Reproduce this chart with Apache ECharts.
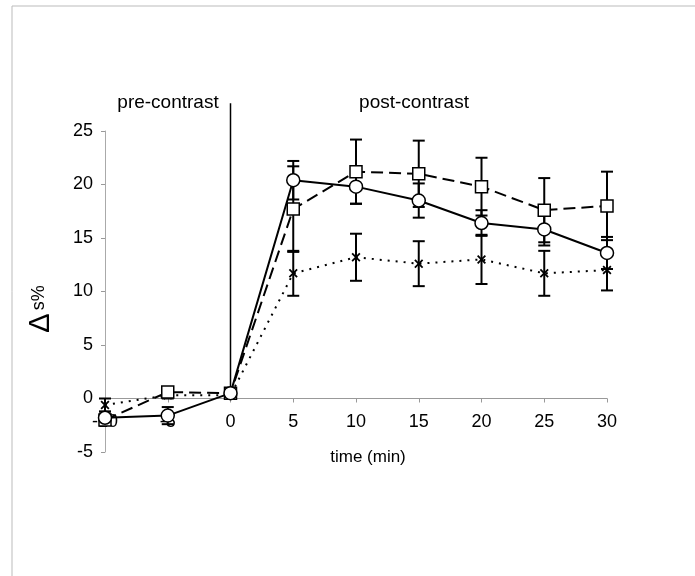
<!DOCTYPE html>
<html>
<head>
<meta charset="utf-8">
<script src="https://cdn.jsdelivr.net/npm/echarts@6/dist/echarts.min.js"></script>
<style>html,body{margin:0;padding:0;background:#fff}#c{width:695px;height:576px}</style>
</head>
<body>
<div id="c"></div>
<script>
var times = [-10, -5, 0, 5, 10, 15, 20, 25, 30];
var circleVals = [-1.8, -1.6, 0.5, 20.4, 19.8, 18.5, 16.4, 15.8, 13.6];
var circleErr  = [0.4, 0.8, 0.3, 1.8, 1.6, 1.6, 1.2, 1.5, 1.5];
var squareVals = [-2.0, 0.6, 0.5, 17.7, 21.2, 21.0, 19.8, 17.6, 18.0];
var squareErr  = [0.3, 0.4, 0.3, 4.0, 3.0, 3.1, 2.7, 3.0, 3.2];
var crossVals  = [-0.6, 0.3, 0.3, 11.7, 13.2, 12.6, 13.0, 11.7, 12.0];
var crossErr   = [0.6, 0.3, 0.3, 2.1, 2.2, 2.1, 2.3, 2.1, 1.9];
var xTicks = [-10, -5, 0, 5, 10, 15, 20, 25, 30];
var yTicks = [-5, 0, 5, 10, 15, 20, 25];
var dividerX = 0, dividerTop = 27.6;

var FONT = 'Liberation Sans, Arial, sans-serif';

function pts(vals) { return times.map(function (t, i) { return [t, vals[i]]; }); }
function errData(vals, errs) { return times.map(function (t, i) { return [t, vals[i] - errs[i], vals[i] + errs[i]]; }); }

function errSeries(vals, errs) {
  return {
    type: 'custom',
    data: errData(vals, errs),
    z: 3,
    renderItem: function (params, api) {
      var x = api.value(0);
      var lo = api.coord([x, api.value(1)]);
      var hi = api.coord([x, api.value(2)]);
      var w = 6;
      var st = { stroke: '#000', lineWidth: 2 };
      return {
        type: 'group',
        children: [
          { type: 'line', shape: { x1: lo[0], y1: lo[1], x2: hi[0], y2: hi[1] }, style: st },
          { type: 'line', shape: { x1: lo[0] - w, y1: lo[1], x2: lo[0] + w, y2: lo[1] }, style: st },
          { type: 'line', shape: { x1: hi[0] - w, y1: hi[1], x2: hi[0] + w, y2: hi[1] }, style: st }
        ]
      };
    }
  };
}

var crossPath = 'path://M0,1.4L1.4,0L5,3.6L8.6,0L10,1.4L6.4,5L10,8.6L8.6,10L5,6.4L1.4,10L0,8.6L3.6,5Z';

var chart = echarts.init(document.getElementById('c'), null, { renderer: 'canvas' });
var gridTop = 131, gridBottom = 124, H = 576;
var plotH = H - gridTop - gridBottom;
var zeroOffset = plotH * (0 - yTicks[0]) / (yTicks[yTicks.length - 1] - yTicks[0]);

chart.setOption({
  animation: false,
  backgroundColor: '#fff',
  grid: { left: 105, right: 88, top: gridTop, bottom: gridBottom, containLabel: false },
  xAxis: {
    type: 'value', min: xTicks[0], max: xTicks[xTicks.length - 1], interval: 5,
    position: 'bottom', offset: -zeroOffset,
    axisLine: { onZero: false, lineStyle: { color: '#999', width: 1 } },
    axisTick: { show: true, length: 4, lineStyle: { color: '#999' } },
    axisLabel: { color: '#000', fontSize: 18, fontFamily: FONT, margin: 15 },
    splitLine: { show: false }
  },
  yAxis: {
    type: 'value', min: yTicks[0], max: yTicks[yTicks.length - 1], interval: 5,
    axisLine: { show: true, onZero: false, lineStyle: { color: '#aaa', width: 1 } },
    axisTick: { show: true, length: 4, lineStyle: { color: '#999' } },
    axisLabel: { color: '#000', fontSize: 18, fontFamily: FONT, margin: 12 },
    splitLine: { show: false }
  },
  graphic: [
    { type: 'rect', shape: { x: 12, y: 6, width: 720, height: 620 }, style: { fill: 'none', stroke: '#bbb', lineWidth: 1 }, silent: true },
    { type: 'text', x: 168, y: 103, style: { text: 'pre-contrast', font: '19px ' + FONT, fill: '#000', textAlign: 'center', textVerticalAlign: 'middle' } },
    { type: 'text', x: 414, y: 103, style: { text: 'post-contrast', font: '19px ' + FONT, fill: '#000', textAlign: 'center', textVerticalAlign: 'middle' } },
    { type: 'text', x: 368, y: 457, style: { text: 'time (min)', font: '17px ' + FONT, fill: '#000', textAlign: 'center', textVerticalAlign: 'middle' } },
    { type: 'text', x: 41, y: 309, rotation: Math.PI / 2,
      style: {
        text: '{d|\u0394} {s|s%}', fill: '#000', align: 'center', verticalAlign: 'middle',
        rich: {
          d: { fontSize: 29, fontFamily: FONT, fill: '#000', verticalAlign: 'middle' },
          s: { fontSize: 18, fontFamily: FONT, fill: '#000', verticalAlign: 'middle', padding: [0, 0, 3, 0] }
        }
      }
    }
  ],
  series: [
    {
      type: 'line', data: [[dividerX, 0], [dividerX, dividerTop]], clip: false, symbol: 'none',
      lineStyle: { color: '#000', width: 1.5 }, z: 1
    },
    errSeries(crossVals, crossErr),
    errSeries(squareVals, squareErr),
    errSeries(circleVals, circleErr),
    {
      type: 'line', data: pts(crossVals), symbol: crossPath, symbolSize: 9,
      itemStyle: { color: '#000' },
      lineStyle: { color: '#000', width: 2, type: [2, 6] }, z: 4
    },
    {
      type: 'line', data: pts(squareVals), symbol: 'rect', symbolSize: 12,
      itemStyle: { color: '#fff', borderColor: '#000', borderWidth: 1.5 },
      lineStyle: { color: '#000', width: 2, type: [12, 6] }, z: 5
    },
    {
      type: 'line', data: pts(circleVals), symbol: 'circle', symbolSize: 13,
      itemStyle: { color: '#fff', borderColor: '#000', borderWidth: 1.5 },
      lineStyle: { color: '#000', width: 2 }, z: 6
    }
  ]
});
</script>
</body>
</html>
